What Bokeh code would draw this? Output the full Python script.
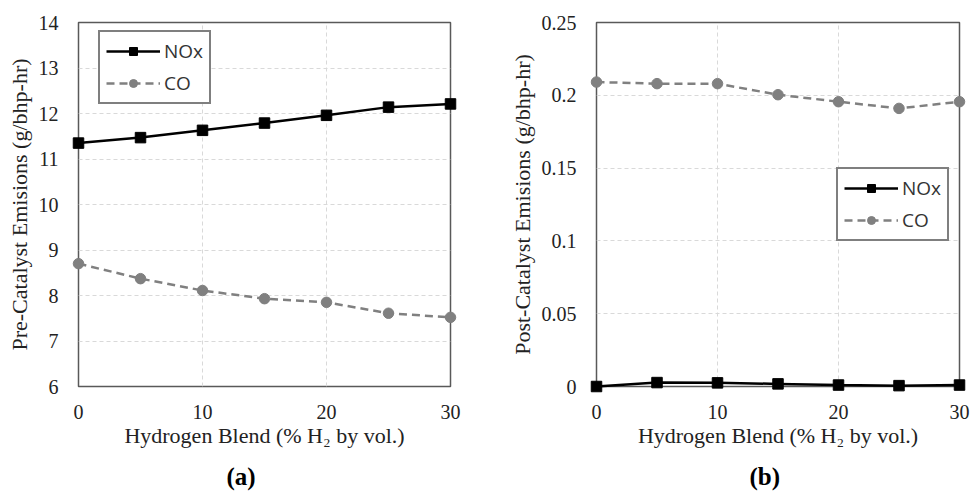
from bokeh.plotting import figure
from bokeh.layouts import row
from bokeh.models import Range1d, FixedTicker, Legend, LegendItem, Title
from bokeh.embed import file_html
from bokeh.resources import INLINE

h2_blend = [0, 5, 10, 15, 20, 25, 30]
pre_nox = [11.35, 11.47, 11.63, 11.79, 11.96, 12.14, 12.21]
pre_co = [8.70, 8.37, 8.11, 7.93, 7.85, 7.61, 7.52]
post_nox = [0.0, 0.0027, 0.0025, 0.0018, 0.0010, 0.0006, 0.0010]
post_co = [0.2091, 0.2080, 0.2080, 0.2004, 0.1956, 0.1910, 0.1956]

x_ticks = [0, 10, 20, 30]
pre_ticks = [6, 7, 8, 9, 10, 11, 12, 13, 14]
post_ticks = [0, 0.05, 0.1, 0.15, 0.2, 0.25]

SERIF = "Liberation Serif"
SANS = "Open Sans"
FRAME = "#595959"
GRID = "#d9d9d9"


def make(ylabel, y_end, yticks, nox, co, bl, fw, br, legend_loc, panel, panel_offset):
    p = figure(width=bl + fw + br, height=499, frame_width=fw, frame_height=364,
               min_border_left=bl, min_border_right=br, min_border_top=22,
               min_border_bottom=113, output_backend="svg", toolbar_location=None,
               x_range=Range1d(0, 30), y_range=Range1d(yticks[0], y_end))
    p.outline_line_color = FRAME
    p.outline_line_width = 1.5
    for ax in (p.xaxis[0], p.yaxis[0]):
        ax.axis_line_color = None
        ax.major_tick_line_color = None
        ax.minor_tick_line_color = None
        ax.major_label_text_font = SERIF
        ax.major_label_text_font_size = "20px"
        ax.major_label_text_color = "#222222"
        ax.axis_label_text_font = SERIF
        ax.axis_label_text_font_style = "normal"
        ax.axis_label_text_font_size = "22px"
        ax.axis_label_text_color = "#222222"
    p.xaxis.ticker = FixedTicker(ticks=x_ticks)
    p.yaxis.ticker = FixedTicker(ticks=yticks)
    p.xaxis.major_label_standoff = 12
    p.yaxis.major_label_standoff = 14
    p.xaxis.axis_label = "Hydrogen Blend (% H\u2082 by vol.)"
    p.xaxis.axis_label_standoff = 1
    p.yaxis.axis_label = ylabel
    p.yaxis.axis_label_standoff = 4
    p.xgrid.ticker = FixedTicker(ticks=x_ticks)
    p.ygrid.ticker = FixedTicker(ticks=yticks)
    for g in (p.xgrid, p.ygrid):
        g.grid_line_color = GRID
        g.grid_line_dash = "4 3"
        g.grid_line_width = 1

    l1 = p.line(h2_blend, nox, line_color="black", line_width=2.5, level="overlay")
    m1 = p.scatter(h2_blend, nox, marker="square", size=10.5, fill_color="black",
                   line_color="black", level="overlay")
    l2 = p.line(h2_blend, co, line_color="#808080", line_width=2.5, line_dash="8 5",
                level="overlay")
    m2 = p.scatter(h2_blend, co, marker="circle", size=10.5, fill_color="#808080",
                   line_color="#808080", level="overlay")

    legend = Legend(items=[LegendItem(label="NOx", renderers=[l1, m1]),
                           LegendItem(label="CO", renderers=[l2, m2])],
                    location=legend_loc, orientation="vertical")
    legend.label_text_font = SANS
    legend.label_text_font_size = "19px"
    legend.label_text_color = "#333333"
    legend.glyph_width = 54
    legend.glyph_height = 20
    legend.label_height = 20
    legend.label_standoff = 4
    legend.spacing = 6
    legend.padding = 6
    legend.margin = 0
    legend.border_line_color = "black"
    legend.border_line_width = 2
    legend.background_fill_alpha = 1
    legend.level = "overlay"
    p.add_layout(legend, "center")

    t = Title(text=panel, text_font=SERIF, text_font_size="25px", text_font_style="bold",
              align="left", offset=panel_offset, standoff=20, text_color="black")
    p.add_layout(t, "below")
    return p


pa = make("Pre-Catalyst Emisions (g/bhp-hr)", 14, pre_ticks, pre_nox, pre_co,
          78, 372, 30, (20, 282), "(a)", 148)
pb = make("Post-Catalyst Emisions (g/bhp-hr)", 0.25, post_ticks, post_nox, post_co,
          116, 363, 12, (240, 145), "(b)", 153)
pb.yaxis.formatter.use_scientific = False

layout = row(pa, pb)
open("out.html", "w").write(file_html(layout, INLINE))
